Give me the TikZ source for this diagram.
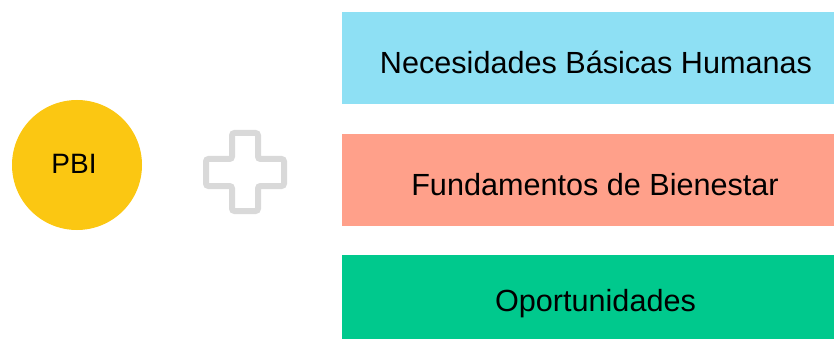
\documentclass[tikz,border=0pt]{standalone}
\usepackage{fontspec}
\setmainfont{Liberation Sans}
\definecolor{cyanbox}{HTML}{8EE0F4}
\definecolor{salmonbox}{HTML}{FFA08A}
\definecolor{greenbox}{HTML}{00C98D}
\definecolor{pbiyellow}{HTML}{FBC712}
\definecolor{plusgray}{HTML}{D9D9D9}
\begin{document}
\begin{tikzpicture}[x=1pt,y=-1pt,
  band/.style={fill=#1, draw=none, minimum width=492pt, minimum height=92pt, inner sep=0pt, anchor=north west},
  label/.style={font=\fontsize{30.6}{34}\selectfont, anchor=base, inner sep=0pt}]
\useasboundingbox (0,0) rectangle (834,339);
\node[band=cyanbox, minimum height=92pt] (b1) at (342,12) {};
\node[band=salmonbox, minimum height=92pt] (b2) at (342,134) {};
\node[band=greenbox, minimum height=84pt] (b3) at (342,255) {};
\node[label] (t1) at (596,73.3) {Necesidades Básicas Humanas};
\node[label] (t2) at (595,195) {Fundamentos de Bienestar};
\node[label] (t3) at (595.5,311) {Oportunidades};
\node[circle, fill=pbiyellow, minimum size=130pt, inner sep=0pt] (pbi) at (77,165) {};
\node[font=\fontsize{28}{30}\selectfont, anchor=base, inner sep=0pt] (pbit) at (74,173.3) {PBI};
\draw[plusgray, line width=6pt, rounded corners=2.5pt]
  (232,133) -- (258,133) -- (258,159) -- (284,159) -- (284,186) -- (258,186)
  -- (258,211) -- (232,211) -- (232,186) -- (206,186) -- (206,159) -- (232,159) -- cycle;
\end{tikzpicture}
\end{document}
